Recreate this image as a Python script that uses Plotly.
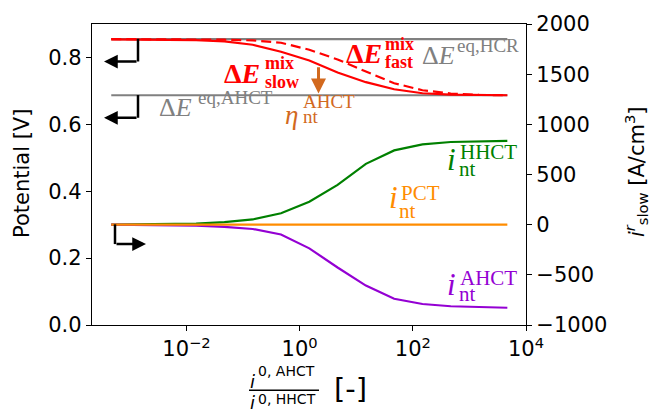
import plotly.graph_objects as go

# ---------------- data ----------------
ratio = [4.68e-4, 1.48e-3, 4.68e-3, 1.48e-2, 4.68e-2, 0.148, 0.468, 1.48,
         4.68, 14.8, 46.8, 148, 468, 1480, 4680]
dE_slow = [0.854, 0.854, 0.853, 0.852, 0.848, 0.838, 0.817, 0.791, 0.755,
           0.726, 0.705, 0.693, 0.689, 0.687, 0.687]
dE_fast = [0.855, 0.855, 0.855, 0.854, 0.853, 0.851, 0.844, 0.823, 0.794,
           0.758, 0.723, 0.702, 0.692, 0.688, 0.687]
dE_eq_HCR = [0.855] * len(ratio)
dE_eq_AHCT = [0.687] * len(ratio)
i_HHCT = [0, 1, 3, 10, 25, 52, 114, 229, 396, 606, 740, 800, 824, 831, 835]
i_AHCT = [0, -1, -3, -10, -22, -43, -98, -236, -427, -607, -738, -791, -813, -823, -828]
i_PCT = [0] * len(ratio)

eta_x = 2.15          # position of the overpotential arrow
eta_top = 0.775

y_left_ticks = [0.0, 0.2, 0.4, 0.6, 0.8]
y_right_ticks = [-1000, -500, 0, 500, 1000, 1500, 2000]
x_ticks = [1e-2, 1, 1e2, 1e4]
x_tick_text = ["10<sup>−2</sup>", "10<sup>0</sup>", "10<sup>2</sup>", "10<sup>4</sup>"]

# ---------------- layout geometry ----------------
W, H = 656, 411
L, R, T, B = 92, 526, 20, 325


def fx(px):
    return (px - L) / (R - L)


def fy(py):
    return (B - py) / (B - T)


RED = "#ff0000"
GRAY = "#808080"
GREEN = "#008000"
ORANGE = "#ff8c00"
PURPLE = "#9400d3"
BROWN = "#d2691e"
SERIF = "Liberation Serif"
SANS = "DejaVu Sans"

fig = go.Figure()

fig.add_trace(go.Scatter(x=ratio, y=dE_eq_HCR, mode="lines", line=dict(color=GRAY, width=2.2), yaxis="y"))
fig.add_trace(go.Scatter(x=ratio, y=dE_eq_AHCT, mode="lines", line=dict(color=GRAY, width=2.2), yaxis="y"))
fig.add_trace(go.Scatter(x=ratio, y=dE_slow, mode="lines", line=dict(color=RED, width=2.2), yaxis="y"))
fig.add_trace(go.Scatter(x=ratio, y=dE_fast, mode="lines", line=dict(color=RED, width=2.2, dash="10px,5px"), yaxis="y"))
fig.add_trace(go.Scatter(x=ratio, y=i_HHCT, mode="lines", line=dict(color=GREEN, width=2.2), yaxis="y2"))
fig.add_trace(go.Scatter(x=ratio, y=i_AHCT, mode="lines", line=dict(color=PURPLE, width=2.2), yaxis="y2"))
fig.add_trace(go.Scatter(x=ratio, y=i_PCT, mode="lines", line=dict(color=ORANGE, width=2.2), yaxis="y2"))

ann = []


def txt(px, py, text, size, color, family=SERIF, xanchor="left"):
    ann.append(dict(x=fx(px), y=fy(py), xref="paper", yref="paper", text=text,
                    showarrow=False, xanchor=xanchor, yanchor="middle", borderpad=0,
                    font=dict(size=size, color=color, family=family)))


# ΔE mix slow
txt(223, 70, "<b>Δ<i>E</i></b>", 28, RED)
txt(264, 60, "<b>mix</b>", 18, RED)
txt(264, 79, "<b>slow</b>", 18, RED)
# ΔE mix fast
txt(345, 50, "<b>Δ<i>E</i></b>", 28, RED)
txt(384, 40, "<b>mix</b>", 18, RED)
txt(384, 58, "<b>fast</b>", 18, RED)
# ΔE eq HCR
txt(421, 52, "Δ<i>E</i>", 26, GRAY)
txt(456, 42, "eq,HCR", 19, GRAY)
# ΔE eq AHCT
txt(158, 105, "Δ<i>E</i>", 26, GRAY)
txt(197, 94, "eq,AHCT", 19, GRAY)
# eta
txt(284, 112, "<i>η</i>", 27, BROWN)
txt(302, 99, "AHCT", 19, BROWN)
txt(302, 114, "nt", 19, BROWN)
# i HHCT
txt(446, 157, "<i>i</i>", 31, GREEN)
txt(459, 150, "HHCT", 21, GREEN)
txt(458, 167, "nt", 21, GREEN)
# i PCT
txt(388, 196, "<i>i</i>", 31, ORANGE)
txt(400, 191, "PCT", 21, ORANGE)
txt(398, 209, "nt", 21, ORANGE)
# i AHCT
txt(446, 284, "<i>i</i>", 31, PURPLE)
txt(459, 277, "AHCT", 21, PURPLE)
txt(458, 294, "nt", 21, PURPLE)

# axis titles
ann.append(dict(x=fx(22), y=fy(172), xref="paper", yref="paper", text="Potential [V]",
                showarrow=False, textangle=-90, xanchor="center", yanchor="middle",
                font=dict(size=21, color="black", family=SANS)))
ann.append(dict(x=fx(636), y=fy(170), xref="paper", yref="paper",
                text="<i>i</i><sup><i>r</i></sup><sub>slow</sub> [A/cm<sup>3</sup>]",
                showarrow=False, textangle=-90, xanchor="center", yanchor="middle",
                font=dict(size=21, color="black", family=SANS)))
# x title (fraction)
txt(249, 382, "<i>i</i>", 18, "black", SANS)
txt(257, 372, "0, AHCT", 14, "black", SANS)
txt(249, 404, "<i>i</i>", 18, "black", SANS)
txt(257, 400, "0, HHCT", 14, "black", SANS)
txt(333, 390, "[-]", 29, "black", SANS)

# black L-shaped axis indicator arrows (tip, tail offset in px)
for (tipx, tipy, dx) in [(104, 58, 34), (104, 115, 34), (146, 243, -31)]:
    ann.append(dict(x=fx(tipx), y=fy(tipy), xref="paper", yref="paper", text="",
                    showarrow=True, ax=dx, ay=0, arrowhead=2, arrowsize=1.1,
                    arrowwidth=2.5, arrowcolor="black"))

# overpotential arrow
ann.append(dict(x=0.333, y=0.692, xref="x", yref="y", axref="x", ayref="y",
                ax=0.333, ay=eta_top, text="", showarrow=True, arrowhead=2,
                arrowsize=1.0, arrowwidth=3, arrowcolor=BROWN))

shapes = [
    dict(type="line", xref="paper", yref="paper", x0=fx(138), x1=fx(138), y0=fy(35), y1=fy(58),
         line=dict(color="black", width=2.5)),
    dict(type="line", xref="paper", yref="paper", x0=fx(138), x1=fx(138), y0=fy(92), y1=fy(115),
         line=dict(color="black", width=2.5)),
    dict(type="line", xref="paper", yref="paper", x0=fx(115), x1=fx(115), y0=fy(223), y1=fy(243),
         line=dict(color="black", width=2.5)),
    dict(type="line", xref="paper", yref="paper", x0=fx(249), x1=fx(319), y0=fy(391), y1=fy(391),
         line=dict(color="black", width=1.5)),
]

fig.update_layout(
    width=W, height=H,
    margin=dict(l=L, r=W - R, t=T, b=H - B),
    paper_bgcolor="white", plot_bgcolor="white",
    showlegend=False,
    annotations=ann, shapes=shapes,
    xaxis=dict(type="log", range=[-3.67, 4.0], tickvals=x_ticks, ticktext=x_tick_text,
               showgrid=False, zeroline=False, showline=True, linecolor="black", linewidth=1.3,
               mirror=True, ticks="outside", ticklen=5, tickwidth=1.3, tickcolor="black",
               tickfont=dict(size=21, family=SANS, color="black")),
    yaxis=dict(range=[0, 0.9], tickvals=y_left_ticks, tickformat=".1f",
               showgrid=False, zeroline=False, showline=True, linecolor="black", linewidth=1.3,
               ticks="outside", ticklen=5, tickwidth=1.3, tickcolor="black",
               tickfont=dict(size=21, family=SANS, color="black")),
    yaxis2=dict(range=[-1000, 2000], tickvals=y_right_ticks, overlaying="y", side="right",
                showgrid=False, zeroline=False, showline=True, linecolor="black", linewidth=1.3,
                ticks="outside", ticklen=5, tickwidth=1.3, tickcolor="black",
                tickfont=dict(size=21, family=SANS, color="black")),
)

fig.write_html("out.html")
